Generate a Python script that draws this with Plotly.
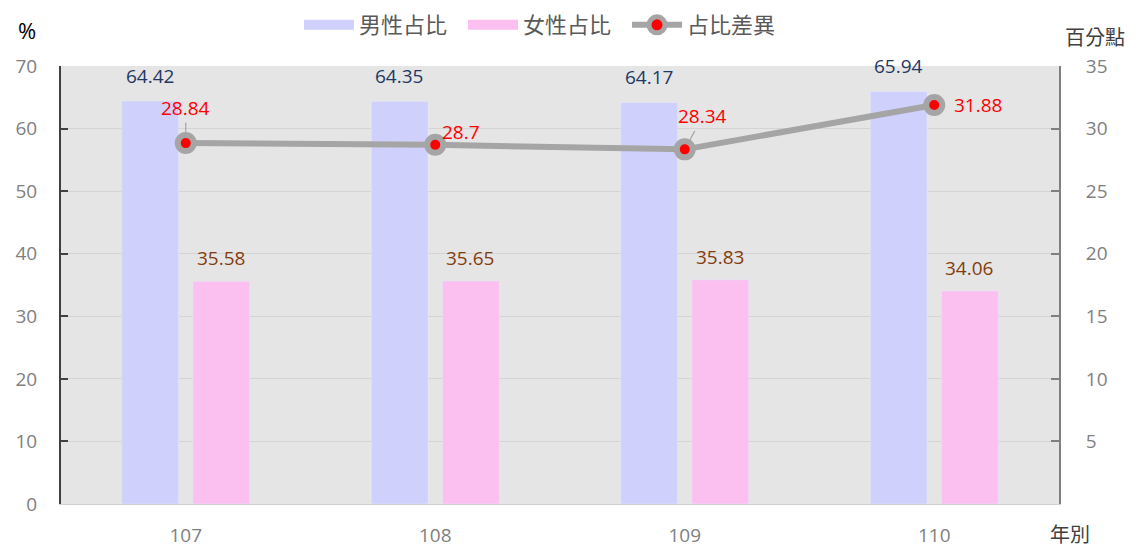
import plotly.graph_objects as go

years = ["107", "108", "109", "110"]
male = [64.42, 64.35, 64.17, 65.94]
female = [35.58, 35.65, 35.83, 34.06]
diff = [28.84, 28.7, 28.34, 31.88]
# label offsets (px) for the difference labels
diff_dx = [0, 26, 18, 44]
diff_dy = [35, 13, 33, 0]
diff_arrow = [True, True, True, False]

FONT = "Open Sans, Noto Sans CJK TC, sans-serif"
MALE_C = "#d0d0fc"
FEMALE_C = "#fbc0f0"
LINE_C = "#a5a5a5"

# page renders the figure with an 8px body offset; work in figure coords
OFF = 8
W, H = 1141 - OFF, 547 - OFF
L, R, T, B = 61 - OFF, 1059 - OFF, 66 - OFF, 504 - OFF

SP = "\u2002"

fig = go.Figure()
fig.add_trace(go.Bar(x=years, y=male, name="男性占比", marker=dict(color=MALE_C), showlegend=False))
fig.add_trace(go.Bar(x=years, y=female, name="女性占比", marker=dict(color=FEMALE_C), showlegend=False))
# legend swatches (wide rectangles as in the reference)
fig.add_trace(go.Scatter(x=[None], y=[None], mode="lines", name="男性占比" + SP,
                         line=dict(color=MALE_C, width=13)))
fig.add_trace(go.Scatter(x=[None], y=[None], mode="lines", name="女性占比" + SP,
                         line=dict(color=FEMALE_C, width=13)))
fig.add_trace(go.Scatter(
    x=years, y=diff, name="占比差異", yaxis="y2", mode="lines+markers",
    line=dict(color=LINE_C, width=6),
    marker=dict(size=16, color="#ff0000", line=dict(color=LINE_C, width=6)),
))

ann = []
for i, v in enumerate(male):
    ann.append(dict(x=i, y=v, xref="x", yref="y", text=f"{v:.2f}", showarrow=False,
                    xshift=-36, yshift=25, font=dict(color="#1f3864", size=19, family=FONT)))
for i, v in enumerate(female):
    ann.append(dict(x=i, y=v, xref="x", yref="y", text=f"{v:.2f}", showarrow=False,
                    xshift=35, yshift=23, font=dict(color="#843c0c", size=19, family=FONT)))
for i, (v, dx, dy, arr) in enumerate(zip(diff, diff_dx, diff_dy, diff_arrow)):
    a = dict(x=i, y=v, xref="x", yref="y2", text=f"{v:g}",
             font=dict(color="#ff0000", size=19, family=FONT))
    if arr:
        a.update(showarrow=True, ax=dx, ay=-dy, arrowhead=0, arrowwidth=1.2,
                 arrowcolor="#a5a5a5", standoff=11)
    else:
        a.update(showarrow=False, xshift=dx, yshift=dy)
    ann.append(a)

def px2paper(x, y):
    return (x - OFF - L) / (R - L), (B - (y - OFF)) / (B - T)

for txt, x, y, size, col in [("%", 27, 30, 22, "#000000"), ("百分點", 1095, 38, 20, "#404040"),
                             ("年別", 1070, 534, 20, "#404040")]:
    px_, py_ = px2paper(x, y)
    ann.append(dict(x=px_, y=py_, xref="paper", yref="paper", text=txt, showarrow=False,
                    xanchor="center", yanchor="middle",
                    font=dict(size=size, color=col, family=FONT)))

leg_x, leg_y = px2paper(540, 25)

fig.update_layout(
    width=W, height=H,
    margin=dict(l=L, r=W - R, t=T, b=H - B, autoexpand=False),
    paper_bgcolor="white", plot_bgcolor="#e5e5e5",
    barmode="group", bargap=0.43, bargroupgap=0.2,
    font=dict(family=FONT, color="#7f7f7f", size=19),
    showlegend=True,
    legend=dict(orientation="h", x=leg_x, xanchor="center", y=leg_y, yanchor="middle",
                font=dict(size=22, color="#595959", family=FONT), itemwidth=50,
                bgcolor="rgba(0,0,0,0)"),
    xaxis=dict(type="category", range=[-0.5, 3.5], showgrid=False, ticks="", ticklabelstandoff=14,
               showline=True, linecolor="#d0d0d0", linewidth=1, tickangle=0,
               tickfont=dict(size=19, color="#7f7f7f")),
    yaxis=dict(range=[0, 70], dtick=10, showgrid=True, gridcolor="#d4d4d4", gridwidth=1,
               showline=True, linecolor="#404040", linewidth=2, ticks="inside", ticklen=7,
               tickcolor="#404040", tickwidth=2, zeroline=False, ticklabelstandoff=18,
               tickfont=dict(size=19, color="#7f7f7f")),
    yaxis2=dict(range=[0, 35], overlaying="y", side="right", tickvals=[5, 10, 15, 20, 25, 30, 35],
                showgrid=False, showline=True, linecolor="#808080", linewidth=2,
                ticks="inside", ticklen=8, tickcolor="#808080", tickwidth=2, zeroline=False,
                ticklabelstandoff=21, tickfont=dict(size=19, color="#7f7f7f")),
    annotations=ann,
)

fig.write_html("out.html")
